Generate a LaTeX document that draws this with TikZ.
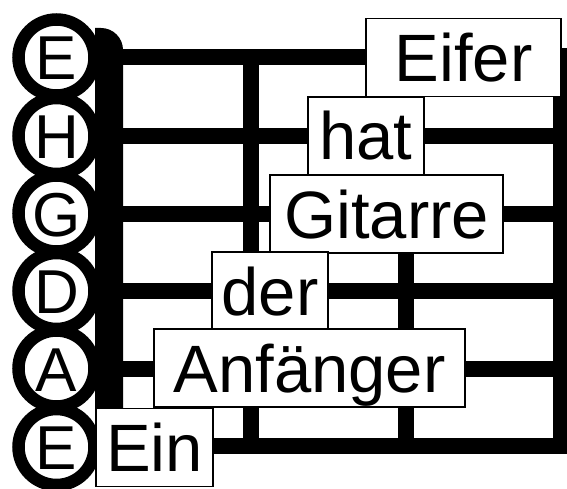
\documentclass[tikz,border=0pt]{standalone}
\usepackage{fontspec}
\setmainfont{Liberation Sans}
\begin{document}
\begin{tikzpicture}[x=1pt,y=-1pt,
  bar/.style={fill=black, draw=none},
  stringline/.style={line width=16pt, draw=black},
  ring/.style={circle, draw=black, line width=12.5pt, fill=white, minimum size=76pt, inner sep=0pt,
    font=\fontsize{62}{62}\selectfont, text height=45pt, text depth=0pt},
  wordbox/.style={rectangle, draw=black, line width=1.2pt, fill=white, minimum height=78pt, inner sep=0pt,
    font=\fontsize{67}{67}\selectfont, text height=48pt, text depth=0pt}]
\useasboundingbox (0,0) rectangle (567,489);
\fill[white] (0,0) rectangle (567,489);
% nut (left bar)
\fill[black] (95,454) -- (95,28) -- (101,28) arc[start angle=-90, end angle=0, radius=22] -- (123,454) -- cycle;
% strings
\foreach \yy [count=\i] in {57.5,136.5,213.5,291,368.5,446}{
  \coordinate (sl\i) at (110,\yy);
  \coordinate (sr\i) at (569,\yy);
  \draw[stringline] (sl\i) -- (sr\i);
}
% frets
\fill[bar] (243,49.5) rectangle (259,454);
\fill[bar] (398,49.5) rectangle (413.5,454);
\fill[bar] (553,48) rectangle (570,454);
% string name circles
\node[ring] (cE1) at (56.5,57.5) {E};
\node[ring] (cH) at (56.5,136) {H};
\node[ring] (cG) at (56.5,213.5) {G};
\node[ring] (cD) at (56.5,291) {D};
\node[ring] (cA) at (56.5,368.5) {A};
\node[ring] (cE2) at (56.5,447) {E};
% word boxes
\node[wordbox, minimum width=195pt] (eifer) at (463.5,57.5) {Eifer};
\node[wordbox, minimum width=116pt] (hat) at (366,136) {hat};
\node[wordbox, minimum width=233pt] (gitarre) at (386.5,214) {Gitarre};
\node[wordbox, minimum width=116pt] (der) at (270,291) {der};
\node[wordbox, minimum width=311pt] (anf) at (309.5,368) {Anfänger};
\node[wordbox, minimum width=117pt] (ein) at (154.5,447.5) {Ein};
\end{tikzpicture}
\end{document}
